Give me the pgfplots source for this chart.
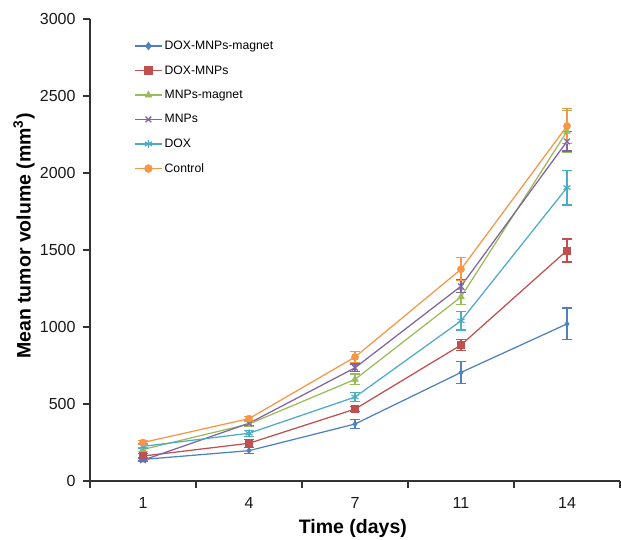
\documentclass[border=0pt]{standalone}
\usepackage{pgfplots}
\pgfplotsset{compat=1.18}
\usepackage{fontspec}
\setmainfont{Liberation Sans}

\definecolor{cblue}{HTML}{4F81BD}
\definecolor{cred}{HTML}{C0504D}
\definecolor{cgreen}{HTML}{9BBB59}
\definecolor{cpurple}{HTML}{8064A2}
\definecolor{caqua}{HTML}{4BACC6}
\definecolor{corange}{HTML}{F79646}

\begin{document}
\begin{tikzpicture}
\begin{axis}[
    scale only axis,
    width=530pt, height=462pt,
    xmin=0, xmax=5,
    ymin=0, ymax=3000,
    axis lines*=left,
    axis line style={black!80, line width=1.2pt},
    xtick={0.5,1.5,2.5,3.5,4.5},
    xticklabels={1,4,7,11,14},
    minor xtick={0,1,2,3,4,5},
    ytick={0,500,...,3000},
    tick align=outside,
    major tick length=7pt,
    minor tick length=7pt,
    x tick style={draw=none},
    minor x tick style={draw=black!80, line width=1.2pt},
    y tick style={black!80, line width=1.2pt},
    tick label style={font=\fontsize{16}{19}\selectfont, black!90},
    /pgf/number format/assume math mode=true,
    /pgf/number format/1000 sep={},
    xticklabel style={yshift=-6pt},
    yticklabel style={xshift=-4pt},
    xlabel={\textbf{Time (days)}},
    ylabel={\textbf{Mean tumor volume (mm\textsuperscript{3})}},
    label style={font=\fontsize{19.5}{23}\selectfont},
    xlabel style={at={(axis description cs:0.496,-0.102)}, anchor=center},
    ylabel style={at={(axis description cs:-0.1245,0.53)}, anchor=center},
    legend style={at={(axis description cs:0.083,0.957)}, anchor=north west,
        draw=none, fill=none, font=\fontsize{12.2}{14}\selectfont,
        row sep=10.5pt, inner sep=0pt},
    legend cell align=left,
    legend image code/.code={
        \draw[line width=1.5pt, mark repeat=2, mark phase=2, mark size=4pt]
            plot coordinates {(0pt,0pt) (13.5pt,0pt) (27pt,0pt)};
    },
    every axis plot/.append style={line width=1.25pt},
    error bars/y dir=both,
    error bars/y explicit,
    error bars/error bar style={line width=1.2pt},
    error bars/error mark options={rotate=90, mark size=5pt, line width=1.2pt},
    clip=false,
]
\addplot[cblue, mark=diamond*, mark size=3pt, mark options={solid, line width=0.4pt}] coordinates {
    (0.5,140) +- (0,10)
    (1.5,197) +- (0,20)
    (2.5,370) +- (0,30)
    (3.5,705) +- (0,70)
    (4.5,1020) +- (0,103)
};
\addlegendentry{DOX-MNPs-magnet}
\addplot[cred, mark=square*, mark size=3.6pt, mark options={solid, line width=0.4pt}] coordinates {
    (0.5,162) +- (0,15)
    (1.5,245) +- (0,25)
    (2.5,467) +- (0,15)
    (3.5,883) +- (0,35)
    (4.5,1497) +- (0,75)
};
\addlegendentry{DOX-MNPs}
\addplot[cgreen, mark=triangle*, mark size=4pt, mark options={solid, line width=0.4pt}] coordinates {
    (0.5,205) +- (0,15)
    (1.5,370) +- (0,15)
    (2.5,660) +- (0,35)
    (3.5,1195) +- (0,50)
    (4.5,2270) +- (0,135)
};
\addlegendentry{MNPs-magnet}
\addplot[cpurple, mark=x, mark size=4pt, mark options={solid, line width=1.3pt}] coordinates {
    (0.5,135) +- (0,10)
    (1.5,375) +- (0,15)
    (2.5,735) +- (0,25)
    (3.5,1265) +- (0,40)
    (4.5,2205) +- (0,62)
};
\addlegendentry{MNPs}
\addplot[caqua, mark=asterisk, mark size=4pt, mark options={solid, line width=1.2pt}] coordinates {
    (0.5,225) +- (0,15)
    (1.5,310) +- (0,20)
    (2.5,545) +- (0,30)
    (3.5,1040) +- (0,60)
    (4.5,1905) +- (0,113)
};
\addlegendentry{DOX}
\addplot[corange, mark=*, mark size=3.6pt, mark options={solid, line width=0.4pt}] coordinates {
    (0.5,250) +- (0,15)
    (1.5,405) +- (0,15)
    (2.5,805) +- (0,35)
    (3.5,1375) +- (0,75)
    (4.5,2305) +- (0,115)
};
\addlegendentry{Control}
\end{axis}
\pgfresetboundingbox
\path (-90pt,-58pt) rectangle (531pt,481pt);
\end{tikzpicture}
\end{document}
